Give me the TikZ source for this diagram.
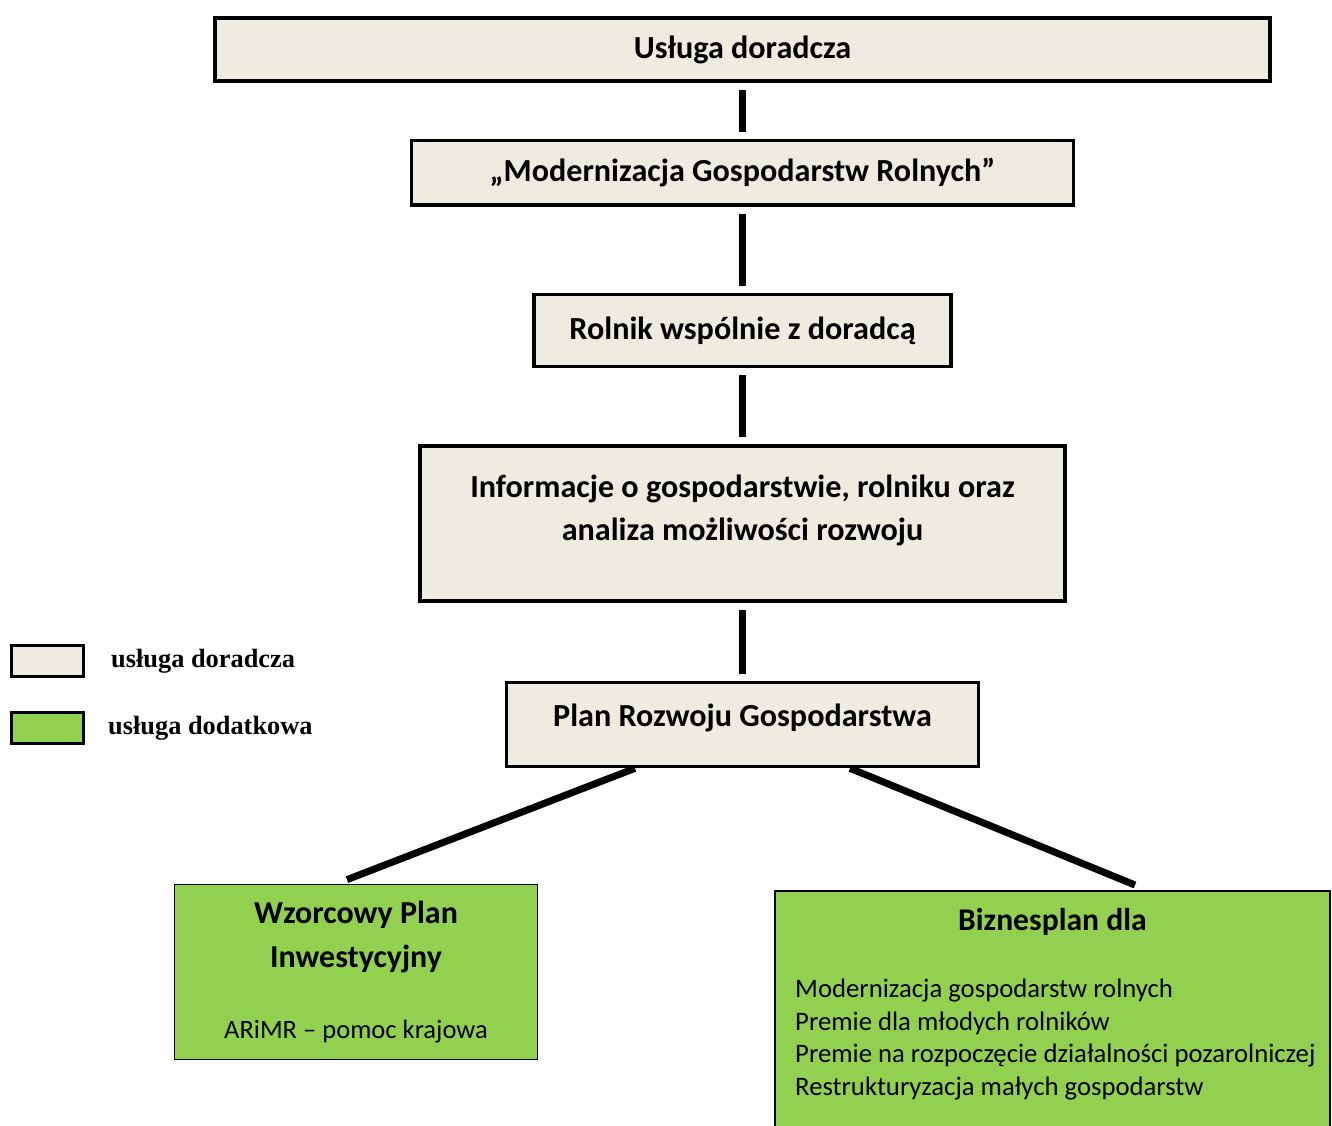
\documentclass[tikz,border=0pt]{standalone}
\usepackage{fontspec}
\setmainfont{Carlito}
\newfontfamily\legendfont{Liberation Serif}
\usetikzlibrary{positioning,calc}
\definecolor{beige}{HTML}{EEECE1}
\definecolor{leaf}{HTML}{92D050}

\begin{document}
\begin{tikzpicture}[node distance=1.6cm]
        \tikzstyle{box}=[rectangle, draw=black, line width=2pt, fill=beige, text centered, font=\fontsize{18.3}{25}\selectfont\bfseries]
        \tikzstyle{extra}=[rectangle, draw=black, line width=1pt, fill=leaf]
        \tikzstyle{key}=[rectangle, draw=black, line width=1.5pt, minimum width=1.44cm, minimum height=0.62cm]
        \tikzstyle{keytext}=[anchor=west, font=\legendfont\fontsize{15}{17}\selectfont\bfseries]
        \tikzstyle{link}=[line width=4pt, shorten <=0.14cm, shorten >=0.14cm]
        \clip (0,0) rectangle (26.64,-22.52);

        % Usluga doradcza
        \node (usl) [box, minimum width=21.1cm, minimum height=1.26cm] at (14.85,-0.99) {Usługa doradcza};

        % Modernizacja Gospodarstw Rolnych
        \node (mod) [box, minimum width=13.24cm, minimum height=1.29cm, below = 1.12cm of usl] {„Modernizacja Gospodarstw Rolnych”};

        % Rolnik wspolnie z doradca
        \node (rol) [box, minimum width=8.34cm, minimum height=1.44cm, below = 1.72cm of mod] {Rolnik wspólnie z doradcą};

        % Informacje o gospodarstwie
        \node (inf) [box, minimum width=12.9cm, minimum height=3.1cm, below = 1.52cm of rol] {};
        \node (inftext) [below = 0.48cm of inf.north, align=center, font=\fontsize{18.3}{25}\selectfont\bfseries] {Informacje o gospodarstwie, rolniku oraz\\analiza możliwości rozwoju};

        % Plan Rozwoju Gospodarstwa
        \node (plan) [box, minimum width=9.44cm, minimum height=1.68cm, text depth=0.37cm, below = 1.56cm of inf] {Plan Rozwoju Gospodarstwa};

        % Wzorcowy Plan Inwestycyjny
        \node (wzor) [extra, minimum width=7.26cm, minimum height=3.5cm, align=center, font=\fontsize{18.2}{25.5}\selectfont\bfseries] at (7.12,-19.44)
            {Wzorcowy Plan\\Inwestycyjny\\[0.52cm]{\fontsize{15.1}{17}\selectfont\mdseries ARiMR – pomoc krajowa}};

        % Biznesplan
        \node (biz) [extra, minimum width=11.1cm, minimum height=5.2cm, anchor=north west] at (15.48,-17.8) {};
        \node (biztitle) [below = 0.25cm of biz.north, font=\fontsize{18}{21}\selectfont\bfseries] {Biznesplan dla};
        \node (bizlist) [anchor=north west, align=left, font=\fontsize{15.2}{18.5}\selectfont] at ($(biz.north west)+(0.3,-1.66)$)
            {Modernizacja gospodarstw rolnych\\Premie dla młodych rolników\\Premie na rozpoczęcie działalności pozarolniczej\\Restrukturyzacja małych gospodarstw};

        % Legend
        \node (key1) [key, fill=beige] at (0.95,-13.22) {};
        \node (key1text) [keytext] at (2.1,-13.22) {usługa doradcza};
        \node (key2) [key, fill=leaf] at (0.95,-14.56) {};
        \node (key2text) [keytext] at (2.04,-14.56) {usługa dodatkowa};

        % Lines
        \draw[link] (usl) -- (mod);
        \draw[link] (mod) -- (rol);
        \draw[link] (rol) -- (inf);
        \draw[link] (inf) -- (plan);
        \draw[line width=4pt] ([xshift=-2.15cm]plan.south) -- ([xshift=-0.18cm, yshift=0.08cm]wzor.north);
        \draw[line width=4pt] ([xshift=2.15cm]plan.south) -- ($(biz.north west)+(7.22,0.1)$);
    \end{tikzpicture}
\end{document}
